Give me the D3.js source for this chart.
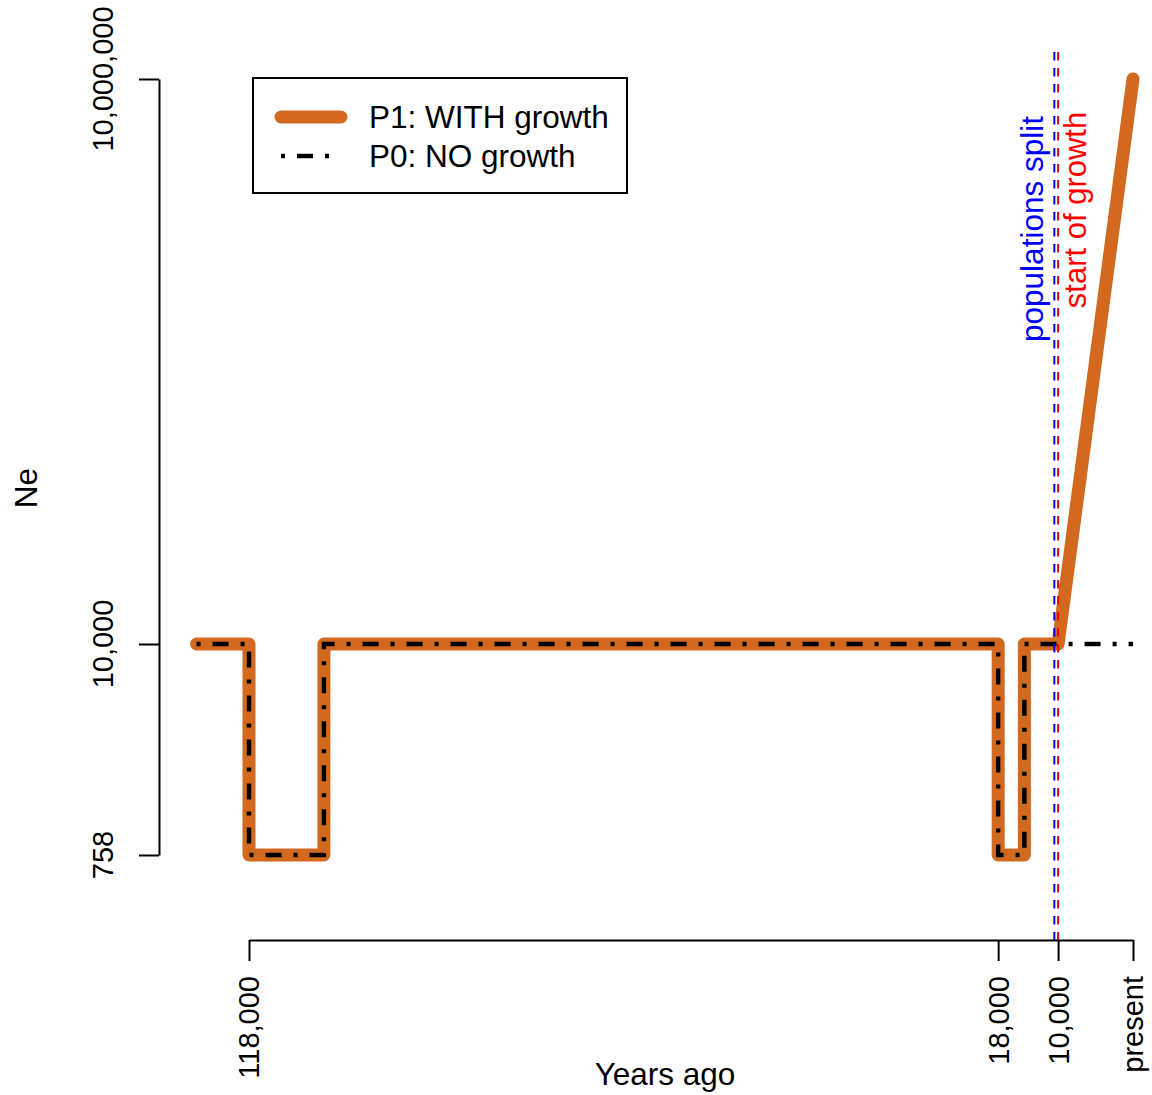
<!DOCTYPE html>
<html>
<head>
<meta charset="utf-8">
<script src="https://cdn.jsdelivr.net/npm/d3@7"></script>
<style>
  body { margin: 0; background: #fff; }
  text { font-family: "Liberation Sans", Arial, sans-serif; }
</style>
</head>
<body>
<div id="chart"></div>
<script>
// data
var yearsAgo = [125000, 118000, 118000, 108000, 108000, 18000, 18000, 14500, 14500, 10000, 0];
var neWithGrowth = [10000, 10000, 758, 758, 10000, 10000, 758, 758, 10000, 10000, 10000000];
var neNoGrowth = [10000, 10000, 758, 758, 10000, 10000, 758, 758, 10000, 10000, 10000];

var xTicks = [118000, 18000, 10000, 0];
var xTickLabels = ["118,000", "18,000", "10,000", "present"];
var yTicks = [758, 10000, 10000000];
var yTickLabels = ["758", "10,000", "10,000,000"];

var splitYears = 10500;
var growthYears = 10000;

var legendLabels = ["P1: WITH growth", "P0: NO growth"];

// svg params
var svgWidth = 1152;
var svgHeight = 1095;
var orange = "#D2691E";

var svg = d3.select("#chart").append("svg")
  .attr("width", svgWidth)
  .attr("height", svgHeight);

// x runs backwards in time, present on the right
var x = d3.scaleLinear()
  .domain([118000, 0])
  .range([249, 1133]);

var y = d3.scaleLog()
  .domain([758, 10000000])
  .range([855, 79]);

var withData = yearsAgo.map((t, i) => ({t: t, ne: neWithGrowth[i]}));
var noData = yearsAgo.map((t, i) => ({t: t, ne: neNoGrowth[i]}));

var line = d3.line()
  .x(d => x(d.t))
  .y(d => y(d.ne));

// P1 thick orange
svg.append("path")
  .datum(withData)
  .attr("d", line)
  .attr("fill", "none")
  .attr("stroke", orange)
  .attr("stroke-width", 13)
  .attr("stroke-linejoin", "round")
  .attr("stroke-linecap", "round");

// P0 dot-dash black
svg.append("path")
  .datum(noData)
  .attr("d", line)
  .attr("fill", "none")
  .attr("stroke", "#000")
  .attr("stroke-width", 4.4)
  .attr("stroke-dasharray", "4,12,16,12");

// vertical markers
var markers = [
  {t: splitYears, color: "blue"},
  {t: growthYears, color: "red"}
];
svg.selectAll(".marker")
  .data(markers)
  .enter()
  .append("line")
  .attr("class", "marker")
  .attr("x1", d => x(d.t))
  .attr("x2", d => x(d.t))
  .attr("y1", 52)
  .attr("y2", 940)
  .attr("stroke", d => d.color)
  .attr("stroke-width", 2)
  .attr("stroke-dasharray", "8.5,7.5");

svg.append("text")
  .attr("transform", `translate(${x(splitYears) - 11}, 229) rotate(-90)`)
  .attr("text-anchor", "middle")
  .attr("font-size", "31.5px")
  .attr("fill", "blue")
  .text("populations split");

svg.append("text")
  .attr("transform", `translate(${x(growthYears) + 28}, 210) rotate(-90)`)
  .attr("text-anchor", "middle")
  .attr("font-size", "31px")
  .attr("fill", "red")
  .text("start of growth");

// x axis
var bottomAxis = d3.axisBottom(x)
  .tickValues(xTicks)
  .tickSize(21)
  .tickSizeOuter(0)
  .tickFormat("");
var xAxisG = svg.append("g")
  .attr("transform", "translate(0, 940)")
  .call(bottomAxis);
xAxisG.select(".domain").attr("stroke-width", 2);
xAxisG.selectAll(".tick line").attr("stroke-width", 2);

svg.selectAll(".xlab")
  .data(xTicks)
  .enter()
  .append("text")
  .attr("class", "xlab")
  .attr("transform", d => `translate(${x(d)}, 976) rotate(-90)`)
  .attr("dy", "0.36em")
  .attr("text-anchor", "end")
  .attr("font-size", "29px")
  .text((d, i) => xTickLabels[i]);

// y axis
var leftAxis = d3.axisLeft(y)
  .tickValues(yTicks)
  .tickSize(20)
  .tickSizeOuter(0)
  .tickFormat("");
var yAxisG = svg.append("g")
  .attr("transform", "translate(159, 0)")
  .call(leftAxis);
yAxisG.select(".domain").attr("stroke-width", 2);
yAxisG.selectAll(".tick line").attr("stroke-width", 2);

svg.selectAll(".ylab")
  .data(yTicks)
  .enter()
  .append("text")
  .attr("class", "ylab")
  .attr("transform", d => `translate(113, ${y(d)}) rotate(-90)`)
  .attr("text-anchor", "middle")
  .attr("font-size", "29px")
  .text((d, i) => yTickLabels[i]);

// axis titles
svg.append("text")
  .attr("x", 665)
  .attr("y", 1085)
  .attr("text-anchor", "middle")
  .attr("font-size", "31.5px")
  .text("Years ago");

svg.append("text")
  .attr("transform", "translate(37, 488) rotate(-90)")
  .attr("text-anchor", "middle")
  .attr("font-size", "31.5px")
  .text("Ne");

// legend
var legend = svg.append("g");
legend.append("rect")
  .attr("x", 253)
  .attr("y", 78)
  .attr("width", 374)
  .attr("height", 115)
  .attr("fill", "#fff")
  .attr("stroke", "#000")
  .attr("stroke-width", 2);

legend.append("line")
  .attr("x1", 281).attr("x2", 341)
  .attr("y1", 117).attr("y2", 117)
  .attr("stroke", orange)
  .attr("stroke-width", 13)
  .attr("stroke-linecap", "round");

legend.append("line")
  .attr("x1", 281).attr("x2", 341)
  .attr("y1", 156).attr("y2", 156)
  .attr("stroke", "#000")
  .attr("stroke-width", 4.4)
  .attr("stroke-dasharray", "4,12,16,12");

legend.selectAll(".legtext")
  .data(legendLabels)
  .enter()
  .append("text")
  .attr("class", "legtext")
  .attr("x", 369)
  .attr("y", (d, i) => 117 + i * 39)
  .attr("dy", "0.36em")
  .attr("font-size", "31.5px")
  .text(d => d);
</script>
</body>
</html>
